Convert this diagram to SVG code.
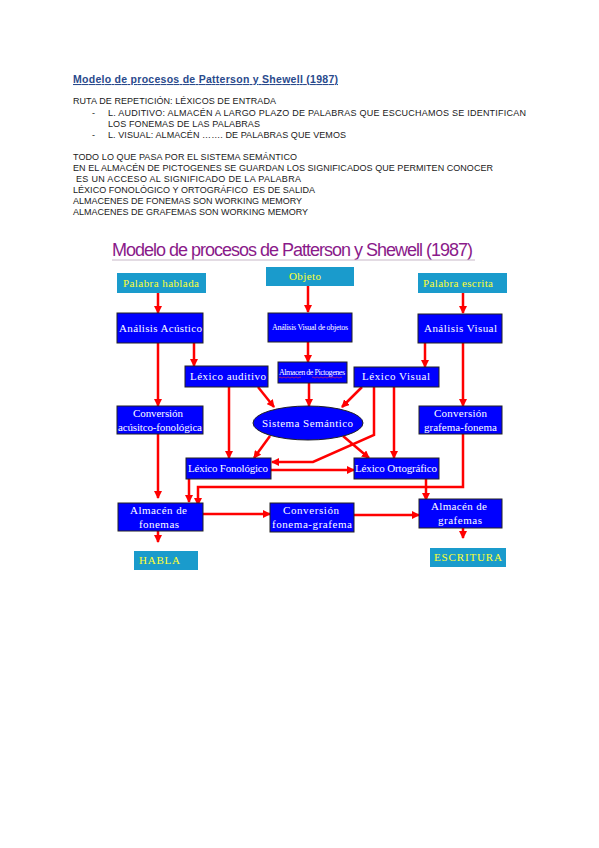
<svg xmlns="http://www.w3.org/2000/svg" width="599" height="848" viewBox="0 0 599 848">
<style>
.bg{fill:#ffffff}
.body{font-family:"Liberation Sans",Arial,sans-serif;font-size:9px;fill:#1a1a1a}
.head{font-family:"Liberation Sans",Arial,sans-serif;font-size:10.5px;font-weight:bold;fill:#2a4a8c;text-decoration:underline}
.dtitle{font-family:"Liberation Sans",Arial,sans-serif;font-size:18px;fill:#8a1a8a}
.cyan{fill:#1a9bcc}
.blue{fill:#0000ff;stroke:#222222;stroke-width:1}
.yt{font-family:"Liberation Serif","Times New Roman",serif;font-size:11px;fill:#ffff33}
.wt{font-family:"Liberation Serif","Times New Roman",serif;font-size:11px;fill:#ffffff}
.ws{font-family:"Liberation Serif","Times New Roman",serif;font-size:8px;fill:#ffffff}
.con path{fill:none;stroke:#ff0000;stroke-width:2.5;marker-end:url(#ah)}
</style>
<defs>
<marker id="ah" markerWidth="8" markerHeight="8" refX="7" refY="4" orient="auto" markerUnits="userSpaceOnUse">
<path d="M0,0 L8,4 L0,8 z" fill="#ff0000"/>
</marker>
</defs>
<rect class="bg" x="0" y="0" width="599" height="848"/>

<g id="notes">
<text class="head" x="73" y="83" textLength="265">Modelo de procesos de Patterson y Shewell (1987)</text>
<text class="body" x="73" y="104" textLength="203">RUTA DE REPETICIÓN: LÉXICOS DE ENTRADA</text>
<text class="body" x="92" y="116">-</text>
<text class="body" x="108" y="116" textLength="418">L. AUDITIVO: ALMACÉN A LARGO PLAZO DE PALABRAS QUE ESCUCHAMOS SE IDENTIFICAN</text>
<text class="body" x="108" y="127" textLength="152">LOS FONEMAS DE LAS PALABRAS</text>
<text class="body" x="92" y="138">-</text>
<text class="body" x="108" y="138" textLength="238">L. VISUAL: ALMACÉN ……. DE PALABRAS QUE VEMOS</text>
<text class="body" x="73" y="160" textLength="224">TODO LO QUE PASA POR EL SISTEMA SEMÁNTICO</text>
<text class="body" x="73" y="171" textLength="420">EN EL ALMACÉN DE PICTOGENES SE GUARDAN LOS SIGNIFICADOS QUE PERMITEN CONOCER</text>
<text class="body" x="76" y="182" textLength="225">ES UN ACCESO AL SIGNIFICADO DE LA PALABRA</text>
<text class="body" x="73" y="193" textLength="242" xml:space="preserve">LÉXICO FONOLÓGICO Y ORTOGRÁFICO  ES DE SALIDA</text>
<text class="body" x="73" y="204" textLength="229">ALMACENES DE FONEMAS SON WORKING MEMORY</text>
<text class="body" x="73" y="215" textLength="235">ALMACENES DE GRAFEMAS SON WORKING MEMORY</text>
</g>

<g id="diagram-title">
<text class="dtitle" x="112" y="256" textLength="361">Modelo de procesos de Patterson y Shewell (1987)</text>
<line x1="112" y1="260" x2="475" y2="260" stroke="#c8b8c8" stroke-width="1"/>
</g>

<g class="con" id="connectors">
<path d="M158,293 L158,313"/>
<path d="M308,286 L308,312"/>
<path d="M463,287 L463,313"/>
<path d="M158,343 L158,406"/>
<path d="M194,343 L194,366"/>
<path d="M308,342 L308,362"/>
<path d="M425,343 L425,367"/>
<path d="M463,343 L463,406"/>
<path d="M258,387 L274,407"/>
<path d="M229,387 L229,458"/>
<path d="M309,383 L309,406"/>
<path d="M362,387 L342,407"/>
<path d="M374,387 L374,435 L313,462 L272,462"/>
<path d="M394,387 L394,458"/>
<path d="M270,436 L254,458"/>
<path d="M343,436 L369,458"/>
<path d="M271,470 L354,470"/>
<path d="M158,434 L158,498"/>
<path d="M189,479 L189,502"/>
<path d="M463,434 L463,487 L198,487 L198,505"/>
<path d="M426,479 L426,500"/>
<path d="M203,514 L270,514"/>
<path d="M354,515 L419,515"/>
<path d="M158,531 L158,542"/>
<path d="M463,528 L463,538"/>
</g>

<g id="palabra-hablada">
<rect class="cyan" x="117" y="273" width="89" height="20"/>
<text class="yt" x="123" y="287" textLength="76">Palabra hablada</text>
</g>
<g id="objeto">
<rect class="cyan" x="266" y="267" width="88" height="19"/>
<text class="yt" x="289" y="280" textLength="32">Objeto</text>
</g>
<g id="palabra-escrita">
<rect class="cyan" x="418" y="273" width="89" height="20"/>
<text class="yt" x="423" y="287" textLength="70">Palabra escrita</text>
</g>

<g id="analisis-acustico">
<rect class="blue" x="117" y="313" width="86" height="30"/>
<text class="wt" x="119" y="332" textLength="83">Análisis Acústico</text>
</g>
<g id="analisis-visual-objetos">
<rect class="blue" x="268" y="313" width="84" height="29"/>
<text class="ws" x="272" y="330" textLength="76">Análisis Visual de objetos</text>
</g>
<g id="analisis-visual">
<rect class="blue" x="418" y="314" width="84" height="29"/>
<text class="wt" x="424" y="332" textLength="73">Análisis Visual</text>
</g>

<g id="lexico-auditivo">
<rect class="blue" x="185" y="366" width="83" height="21"/>
<text class="wt" x="190" y="380" textLength="76">Léxico auditivo</text>
</g>
<g id="almacen-pictogenes">
<rect class="blue" x="278" y="362" width="69" height="21"/>
<text class="ws" x="279" y="375" textLength="66">Almacen de Pictogenes</text>
<path d="M279,377.5 q1,-1 2,0 t2,0 t2,0 t2,0 t2,0 t2,0 t2,0 t2,0 t2,0 t2,0 t2,0 M312,377.5 q1,-1 2,0 t2,0 t2,0 t2,0 t2,0 t2,0 t2,0 t2,0 t2,0 t2,0 t2,0 t2,0 t2,0 t2,0 t2,0" fill="none" stroke="#ff3030" stroke-width="0.6"/>
</g>
<g id="lexico-visual">
<rect class="blue" x="354" y="367" width="85" height="20"/>
<text class="wt" x="362" y="380" textLength="68">Léxico Visual</text>
</g>

<g id="conversion-acustico">
<rect class="blue" x="117" y="406" width="86" height="28"/>
<text class="wt" x="133" y="417" textLength="50">Conversión</text>
<text class="wt" x="118" y="431" textLength="84">acúsitco-fonológica</text>
</g>
<g id="sistema-semantico">
<ellipse cx="308" cy="423" rx="55" ry="17" fill="#0000ff" stroke="#222222" stroke-width="1"/>
<text class="wt" x="262" y="427" textLength="91">Sistema Semántico</text>
</g>
<g id="conversion-grafema">
<rect class="blue" x="419" y="406" width="83" height="28"/>
<text class="wt" x="434" y="417" textLength="53">Conversión</text>
<text class="wt" x="424" y="431" textLength="73">grafema-fonema</text>
</g>

<g id="lexico-fonologico">
<rect class="blue" x="186" y="458" width="85" height="21"/>
<text class="wt" x="188" y="472" textLength="80">Léxico Fonológico</text>
</g>
<g id="lexico-ortografico">
<rect class="blue" x="354" y="458" width="85" height="21"/>
<text class="wt" x="355" y="472" textLength="82">Léxico Ortográfico</text>
</g>

<g id="almacen-fonemas">
<rect class="blue" x="118" y="503" width="85" height="28"/>
<text class="wt" x="130" y="514" textLength="57">Almacén de</text>
<text class="wt" x="139" y="528" textLength="40">fonemas</text>
</g>
<g id="conversion-fonema">
<rect class="blue" x="270" y="503" width="84" height="29"/>
<text class="wt" x="283" y="514" textLength="56">Conversión</text>
<text class="wt" x="272" y="528" textLength="80">fonema-grafema</text>
</g>
<g id="almacen-grafemas">
<rect class="blue" x="419" y="499" width="83" height="29"/>
<text class="wt" x="431" y="510" textLength="56">Almacén de</text>
<text class="wt" x="438" y="524" textLength="44">grafemas</text>
</g>

<g id="habla">
<rect class="cyan" x="134" y="551" width="64" height="19"/>
<text class="yt" x="139" y="564" textLength="41">HABLA</text>
</g>
<g id="escritura">
<rect class="cyan" x="430" y="548" width="76" height="19"/>
<text class="yt" x="434" y="561" textLength="68">ESCRITURA</text>
</g>
</svg>
